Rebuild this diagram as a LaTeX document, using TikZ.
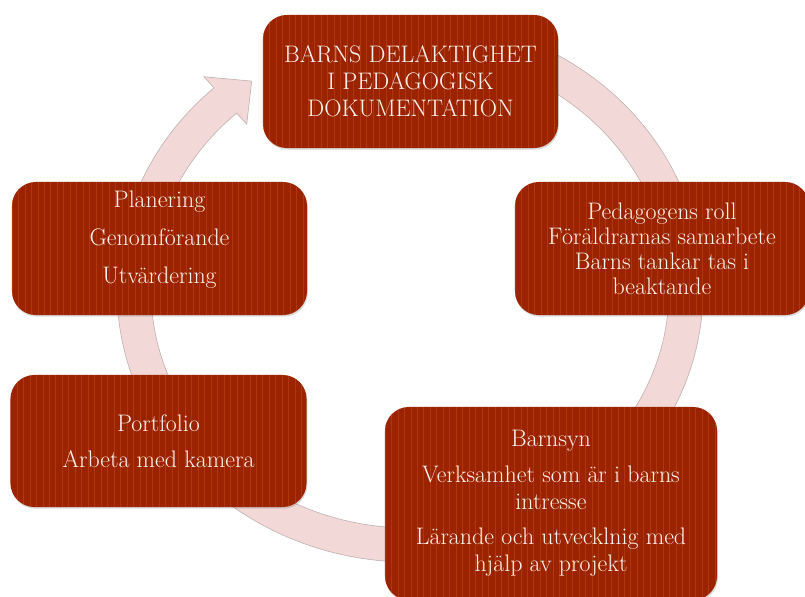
\documentclass[tikz,border=0pt]{standalone}
\usepackage{fontspec}
\usepackage{xcolor}
\usetikzlibrary{shadows}
\definecolor{cyclered}{HTML}{9C2300}
\definecolor{cyclestripe}{HTML}{C9581C}
\definecolor{cyclering}{HTML}{F2D8D6}
\definecolor{cycleedge}{HTML}{BBAFAF}
\definecolor{cycletext}{HTML}{FBF3EE}

\begin{document}
\begin{tikzpicture}[
        x=0.025cm, y=-0.025cm,
        box/.style={fill=cyclered, rounded corners=17pt, inner sep=0pt,
            drop shadow={shadow xshift=0.6pt, shadow yshift=-1.2pt, opacity=0.3},
            path picture={
                \foreach \i in {0,...,60}
                    \draw[cyclestripe, line width=0.4pt, opacity=0.4]
                        ([xshift=\i*4.6pt]path picture bounding box.south west)
                        -- ([xshift=\i*4.6pt]path picture bounding box.north west);
            }},
        boxtext/.style={text=cycletext, align=center, font=\fontsize{17}{19.2}\selectfont}
    ]
    \useasboundingbox (0,0) rectangle (805,597);
    \clip (0,0) rectangle (805,597);

    % cycle arrow
    \begin{scope}[shift={(410,290)}]
        \filldraw[fill=cyclering, draw=cycleedge, line width=0.4pt]
            (-60:293 and 272) arc[start angle=-60, end angle=228, x radius=293, y radius=272]
            -- (228:308 and 287) -- (235:276 and 255) -- (228:244 and 223)
            -- (228:259 and 238) arc[start angle=228, end angle=-60, x radius=259, y radius=238]
            -- cycle;
    \end{scope}

    % boxes
    \node[box, minimum width=7.375cm, minimum height=3.325cm] (delaktighet) at (410.5,81.5) {};
    \node[box, minimum width=7.35cm, minimum height=3.325cm] (roll) at (662,248.5) {};
    \node[box, minimum width=8.3cm, minimum height=4.825cm] (barnsyn) at (551,503.5) {};
    \node[box, minimum width=7.4cm, minimum height=3.3cm] (portfolio) at (158.5,441) {};
    \node[box, minimum width=7.375cm, minimum height=3.325cm] (planering) at (159.5,248.5) {};

    % texts
    \node[boxtext] (delaktighet-txt) at (delaktighet.center)
        {BARNS DELAKTIGHET\\I PEDAGOGISK\\DOKUMENTATION};
    \node[boxtext] (roll-txt) at (roll.center)
        {Pedagogens roll\\[-1.4pt]Föräldrarnas samarbete\\[-1.4pt]Barns tankar tas i\\[-1.4pt]beaktande};
    \node[boxtext] (barnsyn-txt) at (barnsyn.center)
        {Barnsyn\\[6pt]Verksamhet som är i barns\\intresse\\[6pt]Lärande och utvecklnig med\\hjälp av projekt};
    \node[boxtext] (portfolio-txt) at (portfolio.center)
        {Portfolio\\[6.4pt]Arbeta med kamera};
    \node[boxtext] (planering-txt) at ([yshift=6pt]planering.center)
        {Planering\\[7.8pt]Genomförande\\[7.8pt]Utvärdering};
\end{tikzpicture}
\end{document}
